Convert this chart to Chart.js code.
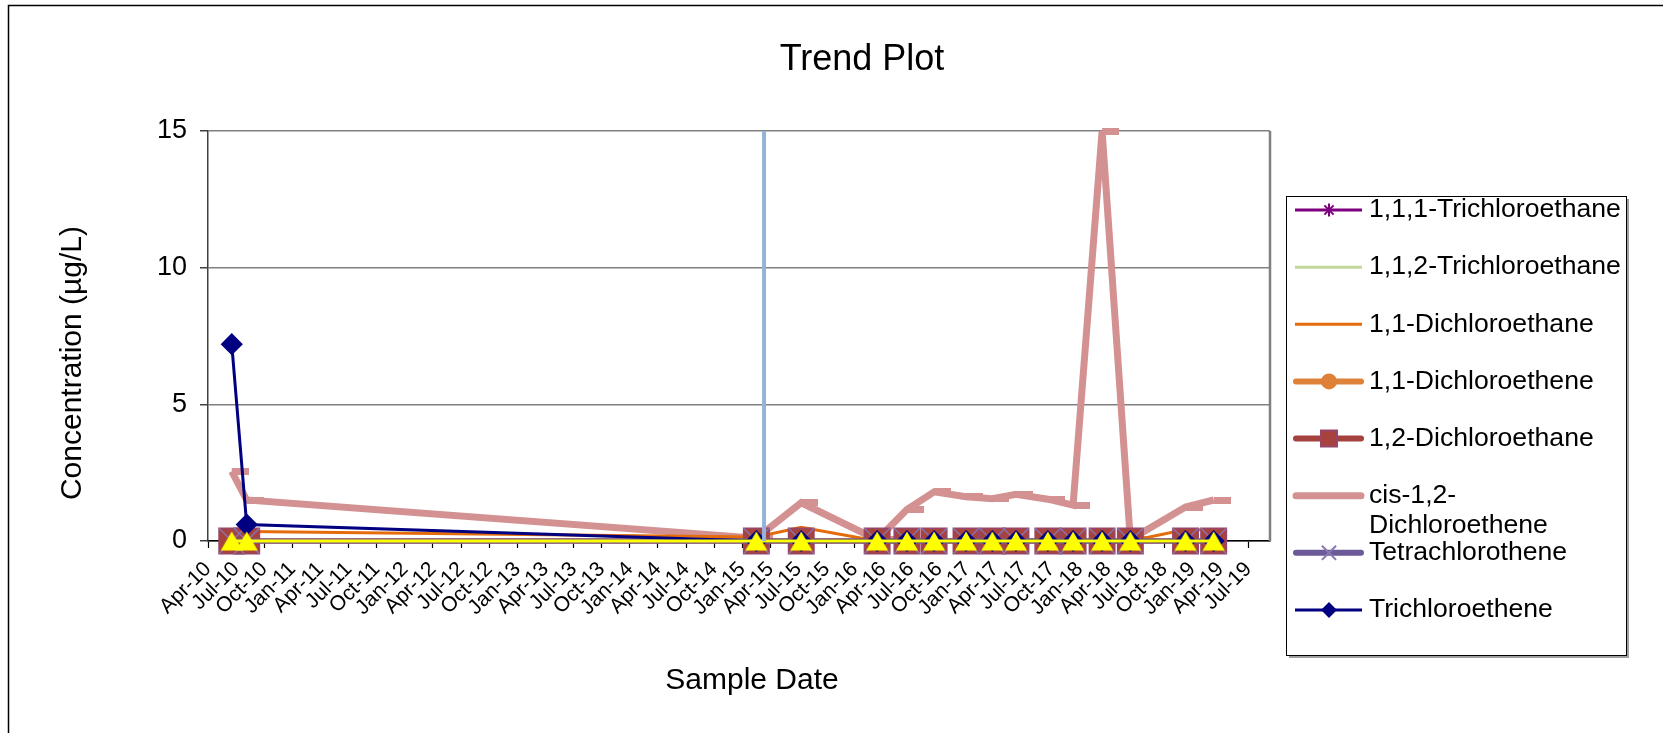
<!DOCTYPE html>
<html>
<head>
<meta charset="utf-8">
<title>Trend Plot</title>
<script src="https://cdn.jsdelivr.net/npm/chart.js@4.4.0/dist/chart.umd.min.js"></script>
<style>
  html, body { margin: 0; padding: 0; background: #fff; }
  #wrap { width: 1663px; height: 733px; }
</style>
</head>
<body>
<div id="wrap"><canvas id="trendChart" width="1663" height="733"></canvas></div>
<script>
// sample dates
const sampleDates = [
  '2010-06-17', '2010-08-05', '2015-02-15', '2015-07-10', '2016-03-13', '2016-06-18',
  '2016-09-15', '2016-12-28', '2017-03-22', '2017-06-07', '2017-09-19', '2017-12-10',
  '2018-03-13', '2018-06-13', '2018-12-10', '2019-03-10'
];

const seriesNames = [
  '1,1,1-Trichloroethane', '1,1,2-Trichloroethane', '1,1-Dichloroethane', '1,1-Dichloroethene',
  '1,2-Dichloroethane', 'cis-1,2-Dichloroethene', 'Tetrachlorothene', 'Trichloroethene'
];

// concentrations (ug/L), one value per sample date
const tca111 = [0, 0, 0, 0, 0, 0, 0, 0, 0, 0, 0, 0, 0, 0, 0, 0];
const tca112 = [0, 0, 0, 0, 0, 0, 0, 0, 0, 0, 0, 0, 0, 0, 0, 0];
const dca11  = [0.35, 0.35, 0.15, 0.5, 0, 0, 0, 0, 0, 0, 0, 0, 0, 0, 0.42, 0.4];
const dce11  = [0, 0, 0, 0, 0, 0, 0, 0, 0, 0, 0, 0, 0, 0, 0, 0];
const dca12  = [0, 0, 0, 0, 0, 0, 0, 0, 0, 0, 0, 0, 0, 0, 0, 0];
const cisDce = [2.55, 1.5, 0.1, 1.4, 0.05, 1.15, 1.8, 1.62, 1.55, 1.71, 1.53, 1.31, 15, 0.05, 1.24, 1.5];
const pce    = [0, 0, 0, 0, 0, 0, 0, 0, 0, 0, 0, 0, 0, 0, 0, 0];
const tce    = [7.2, 0.6, 0, 0, 0, 0, 0, 0, 0, 0, 0, 0, 0, 0, 0, 0];
const vinylChloride = [0, 0, 0, 0, 0, 0, 0, 0, 0, 0, 0, 0, 0, 0, 0, 0];

// vertical marker line
const markerDate = '2015-03-11';
const markerRange = [0, 15];

// axis
const tickLabels = [
  'Apr-10', 'Jul-10', 'Oct-10', 'Jan-11', 'Apr-11', 'Jul-11', 'Oct-11', 'Jan-12', 'Apr-12', 'Jul-12',
  'Oct-12', 'Jan-13', 'Apr-13', 'Jul-13', 'Oct-13', 'Jan-14', 'Apr-14', 'Jul-14', 'Oct-14', 'Jan-15',
  'Apr-15', 'Jul-15', 'Oct-15', 'Jan-16', 'Apr-16', 'Jul-16', 'Oct-16', 'Jan-17', 'Apr-17', 'Jul-17',
  'Oct-17', 'Jan-18', 'Apr-18', 'Jul-18', 'Oct-18', 'Jan-19', 'Apr-19', 'Jul-19'
];
const axisEnd = '2019-09-10';
const yTicks = [0, 5, 10, 15];

const FONT = '"Liberation Sans", Arial, sans-serif';
const MONTHS = ['Jan', 'Feb', 'Mar', 'Apr', 'May', 'Jun', 'Jul', 'Aug', 'Sep', 'Oct', 'Nov', 'Dec'];

// months since Jan 2010 (the x scale is linear in months)
function monthIndex(s) {
  const [y, m, d] = s.split('-').map(Number);
  const dim = new Date(y, m, 0).getDate();
  return (y - 2010) * 12 + (m - 1) + (d - 1) / dim;
}
function labelIndex(lbl) {
  const [mon, yy] = lbl.split('-');
  return (Number(yy) - 10) * 12 + MONTHS.indexOf(mon);
}

const xs = sampleDates.map(monthIndex);
const pts = vals => vals.map((v, i) => ({ x: xs[i], y: v }));
const tickValues = tickLabels.map(labelIndex);

// excel draws a little dash to the right of each cis-1,2-DCE point
const nub = document.createElement('canvas');
nub.width = 34; nub.height = 7;
const nctx = nub.getContext('2d');
nctx.fillStyle = '#d39191';
nctx.fillRect(17, 0, 17, 7);

// excel triangle: box centred on the point (chart.js centres the centroid instead)
const tri = document.createElement('canvas');
tri.width = 24; tri.height = 22;
const tctx = tri.getContext('2d');
tctx.fillStyle = '#ffff00';
tctx.beginPath();
tctx.moveTo(12, 1.5);
tctx.lineTo(23, 20.5);
tctx.lineTo(1, 20.5);
tctx.closePath();
tctx.fill();

const datasets = [
  { label: 'marker', data: markerRange.map(v => ({ x: monthIndex(markerDate), y: v })),
    borderColor: '#95b3d7', borderWidth: 4, pointRadius: 0, order: 0 },
  { label: 'Vinyl chloride', data: pts(vinylChloride), borderColor: '#ffff00', borderWidth: 3,
    pointStyle: tri, pointRadius: 11, order: 1 },
  { label: seriesNames[7], data: pts(tce), borderColor: '#000080', borderWidth: 3,
    pointStyle: 'rectRot', pointRadius: 9, pointBackgroundColor: '#000080', pointBorderColor: '#000080',
    legend: { style: 'rectRot', r: 6.5, w: 3 }, order: 2 },
  { label: seriesNames[6], data: pts(pce), borderColor: '#6b5a97', borderWidth: 5,
    pointStyle: 'crossRot', pointRadius: 18, pointBorderColor: '#8773ad', pointBorderWidth: 1.5,
    legend: { style: 'crossRot', r: 10, w: 6, mc: '#8a76b0' }, order: 3 },
  { label: seriesNames[4], data: pts(dca12), borderColor: '#a6423e', borderWidth: 5,
    pointStyle: 'rect', pointRadius: 18, pointBackgroundColor: '#a8423d', pointBorderColor: '#96466a',
    pointBorderWidth: 1.5, legend: { style: 'rect', r: 11.3, w: 6 }, order: 4 },
  { label: seriesNames[3], data: pts(dce11), borderColor: '#de8139', borderWidth: 5,
    pointStyle: 'circle', pointRadius: 7, pointBackgroundColor: '#de8139', pointBorderColor: '#de8139',
    legend: { style: 'circle', r: 7, w: 6 }, order: 5 },
  { label: seriesNames[2], data: pts(dca11), borderColor: '#e46c0a', borderWidth: 3, pointRadius: 0,
    legend: { w: 3 }, order: 6 },
  { label: seriesNames[1], data: pts(tca112), borderColor: '#c4d79b', borderWidth: 3, pointRadius: 0,
    legend: { w: 3 }, order: 7 },
  { label: seriesNames[0], data: pts(tca111), borderColor: '#7f007f', borderWidth: 3,
    pointStyle: 'star', pointRadius: 7, pointBorderColor: '#7f007f', pointBorderWidth: 1.5,
    legend: { style: 'star', r: 6.5, w: 3 }, order: 8 },
  { label: seriesNames[5], data: pts(cisDce), borderColor: '#d39191', borderWidth: 7,
    pointStyle: nub, pointRadius: 4, legend: { w: 7 }, order: 9 }
];
datasets.forEach(ds => { ds.clip = false; });

// boxed legend, titles and frame drawn the way excel lays them out
const excelFrame = {
  id: 'excelFrame',
  afterDraw(chart) {
    const ctx = chart.ctx;
    const area = chart.chartArea;
    ctx.save();

    // outer chart border
    ctx.strokeStyle = '#000';
    ctx.lineWidth = 1.5;
    ctx.strokeRect(8.5, 5.5, 1700, 800);

    // right edge of the plot area
    ctx.strokeStyle = '#808080';
    ctx.lineWidth = 2.5;
    ctx.beginPath();
    ctx.moveTo(area.right, area.top);
    ctx.lineTo(area.right, area.bottom);
    ctx.stroke();

    // titles
    ctx.fillStyle = '#000';
    ctx.textAlign = 'center';
    ctx.textBaseline = 'middle';
    ctx.font = '36px ' + FONT;
    ctx.fillText('Trend Plot', 862, 60);
    ctx.font = '30px ' + FONT;
    ctx.fillText('Sample Date', 752, 681);
    ctx.save();
    ctx.translate(73, 363);
    ctx.rotate(-Math.PI / 2);
    ctx.fillText('Concentration (µg/L)', 0, 0);
    ctx.restore();

    // legend box
    const bx = 1286, by = 196, bw = 340, bh = 459;
    ctx.strokeStyle = '#000';
    ctx.lineWidth = 1;
    ctx.strokeRect(bx + 0.5, by + 0.5, bw, bh);
    ctx.strokeStyle = '#a0a0a0';
    ctx.lineWidth = 2;
    ctx.beginPath();
    ctx.moveTo(bx + bw + 2, by + 3);
    ctx.lineTo(bx + bw + 2, by + bh + 2);
    ctx.lineTo(bx + 3, by + bh + 2);
    ctx.stroke();

    ctx.font = '26.6px ' + FONT;
    ctx.textAlign = 'left';
    const maxText = 255;
    seriesNames.forEach((name, i) => {
      const ds = chart.data.datasets.find(d => d.label === name);
      const y = 210 + i * 57.14;
      const lg = ds.legend;
      // line
      ctx.strokeStyle = ds.borderColor;
      ctx.lineWidth = lg.w;
      ctx.lineCap = lg.w > 4 ? 'round' : 'butt';
      ctx.beginPath();
      ctx.moveTo(lg.w > 4 ? 1296 : 1295, y);
      ctx.lineTo(lg.w > 4 ? 1361 : 1362, y);
      ctx.stroke();
      ctx.lineCap = 'butt';
      // marker
      if (lg.style && Chart.helpers && Chart.helpers.drawPoint) {
        ctx.fillStyle = ds.pointBackgroundColor || ds.borderColor;
        ctx.strokeStyle = lg.mc || ds.pointBorderColor || ds.borderColor;
        ctx.lineWidth = 2;
        Chart.helpers.drawPoint(ctx, { pointStyle: lg.style, radius: lg.r, rotation: 0, borderWidth: 2 }, 1329, y);
      }
      // label, wrapped after hyphens like excel
      const parts = name.split(/(?<=-)/);
      const lines = [];
      let cur = '';
      parts.forEach(p => {
        if (cur && ctx.measureText(cur + p).width > maxText) { lines.push(cur); cur = p; }
        else cur += p;
      });
      lines.push(cur);
      ctx.fillStyle = '#000';
      lines.forEach((ln, k) => ctx.fillText(ln, 1369, y + k * 30));
    });
    ctx.restore();
  }
};

const ctx = document.getElementById('trendChart').getContext('2d');

new Chart(ctx, {
  type: 'line',
  data: { datasets: datasets },
  plugins: [excelFrame],
  options: {
    responsive: false,
    animation: false,
    layout: { padding: { left: 0, right: 393, top: 131, bottom: 0 } },
    plugins: {
      legend: { display: false },
      title: { display: false },
      tooltip: { enabled: false }
    },
    elements: { line: { tension: 0 } },
    scales: {
      x: {
        type: 'linear',
        min: tickValues[0],
        max: monthIndex(axisEnd),
        afterBuildTicks: scale => { scale.ticks = tickValues.map(v => ({ value: v })); },
        afterFit: scale => { scale.height = 192; },
        grid: { drawOnChartArea: false, drawTicks: true, tickLength: 7, tickColor: '#000', tickWidth: 1.2 },
        border: { color: '#000', width: 1.5 },
        ticks: {
          autoSkip: false,
          minRotation: 45,
          maxRotation: 45,
          padding: 9,
          color: '#000',
          font: { family: FONT, size: 21 },
          callback: (v, i) => tickLabels[i]
        }
      },
      y: {
        min: yTicks[0],
        max: yTicks[yTicks.length - 1],
        afterBuildTicks: scale => { scale.ticks = yTicks.map(v => ({ value: v })); },
        afterFit: scale => { scale.width = 208; },
        grid: { color: '#808080', lineWidth: 1.5, tickLength: 8, tickColor: '#404040' },
        border: { color: '#404040', width: 1.5 },
        ticks: {
          padding: 13,
          color: '#000',
          font: { family: FONT, size: 27 }
        }
      }
    }
  }
});
</script>
</body>
</html>
